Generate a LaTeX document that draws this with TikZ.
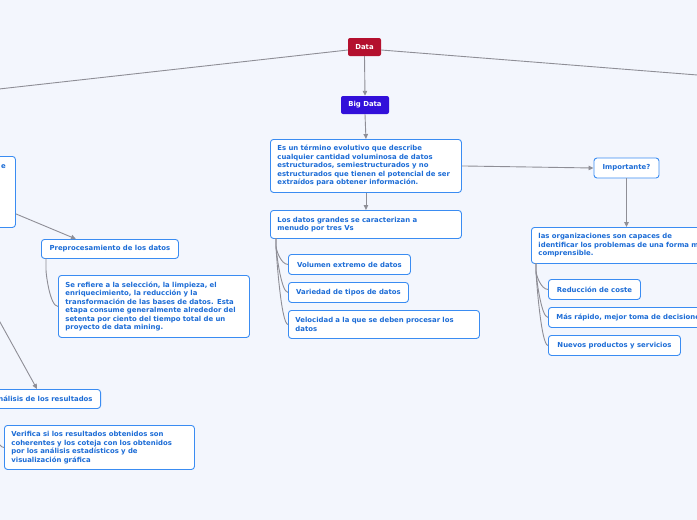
\documentclass[tikz,border=0pt]{standalone}
\usepackage{fontspec}
\setmainfont{DejaVu Sans}
\usetikzlibrary{arrows.meta}
\definecolor{bg}{HTML}{F3F6FD}
\definecolor{bord}{HTML}{3A8CF2}
\definecolor{txt}{HTML}{1C6CD6}
\definecolor{redt}{HTML}{B4102E}
\definecolor{viol}{HTML}{3210DA}
\definecolor{conn}{HTML}{8E8E96}
\tikzset{
  txtfont/.style={font=\bfseries\fontsize{6.9}{8.5}\selectfont},
  topic/.style={txtfont, text=white, rounded corners=2pt, inner sep=0pt, minimum height=18pt},
  box/.style={txtfont, draw=bord, line width=0.9pt, fill=white, text=txt, rounded corners=3pt,
    align=left, inner xsep=8pt, inner ysep=0pt, anchor=north west},
  arr/.style={draw=conn, line width=0.9pt, -{Triangle[length=5pt,width=4.5pt]}},
  ln/.style={draw=conn, line width=0.9pt},
}
\begin{document}
\begin{tikzpicture}[x=1pt,y=-1pt]
\useasboundingbox (0,0) rectangle (697,520);
\fill[bg] (0,0) rectangle (697,520);
\clip (0,0) rectangle (697,520);

% central
\node[topic, fill=redt, minimum width=33pt] (data) at (364.5,47) {Data};
\node[topic, fill=viol, minimum width=48pt] (bigdata) at (365,105) {Big Data};
\coordinate (offL) at (-10,90);
\coordinate (offR) at (710,76);
\draw[ln] ([yshift=-3pt]data.west) -- (offL);
\draw[ln] ([yshift=-3pt]data.east) -- (offR);
\draw[arr] (data.south) -- (bigdata.north);

\node[box, text width=177pt, inner xsep=7pt, minimum height=53pt] (b1) at (270,139)
 {Es un término evolutivo que describe\\cualquier cantidad voluminosa de datos\\estructurados, semiestructurados y no\\estructurados que tienen el potencial de ser\\extraídos para obtener información.};
\draw[arr] (bigdata.south) -- (b1.north);

\node[box, text width=177pt, inner xsep=7pt, minimum height=28pt] (b2) at (270,210)
 {Los datos grandes se caracterizan a\\menudo por tres Vs};
\draw[arr] (b1.south) -- (b2.north);

\node[box, minimum width=122pt, minimum height=20pt, inner xsep=2pt] (v1) at (288,254) {Volumen extremo de datos};
\node[box, minimum width=120pt, minimum height=20pt, inner xsep=2pt] (v2) at (288,282) {Variedad de tipos de datos};
\node[box, text width=177pt, inner xsep=7pt, minimum height=28pt] (v3) at (288,310) {Velocidad a la que se deben procesar los\\datos};
\coordinate (b2s) at (276,238);
\foreach \t in {v1,v2,v3}{
  \draw[ln] (b2s) -- ++(0,8) .. controls +(0,4) and +(-7,0) .. (\t.west);
}

% right branch
\node[box, anchor=center, minimum width=65pt, minimum height=20pt, inner xsep=2pt] (imp) at (626.5,168) {Importante?};
\draw[arr] (b1.east) -- (imp.west);
\node[box, text width=215pt, inner xsep=7pt, minimum height=36pt] (org) at (531,227)
 {las organizaciones son capaces de\\identificar los problemas de una forma más\\comprensible.};
\draw[arr] (imp.south) -- (imp.south |- org.north);
\node[box, minimum width=92pt, minimum height=20pt, inner xsep=2pt] (r1) at (548,279) {Reducción de coste};
\node[box, text width=190pt, minimum height=20pt] (r2) at (548,307) {Más rápido, mejor toma de decisiones};
\node[box, minimum width=132pt, minimum height=20pt, inner xsep=2pt] (r3) at (548,335) {Nuevos productos y servicios};
\coordinate (orgs) at (536,263);
\foreach \t in {r1,r2,r3}{
  \draw[ln] (orgs) -- ++(0,8) .. controls +(0,4) and +(-7,0) .. (\t.west);
}

% left branch
\node[box, text width=99pt, minimum height=71pt] (lb) at (-100,156) {};
\node[txtfont, text=txt, anchor=base east, inner sep=0pt] (lbt) at (6,168) {e};
\node[box, minimum width=137pt, minimum height=19pt, inner xsep=2pt] (pre) at (41,239) {Preprocesamiento de los datos};
\draw[arr] ([yshift=14pt]lb.south east) -- ([xshift=-34pt]pre.north);
\node[box, text width=177pt, inner xsep=7pt, minimum height=62pt] (pred) at (58,275)
 {Se refiere a la selección, la limpieza, el\\enriquecimiento, la reducción y la\\transformación de las bases de datos. Esta\\etapa consume generalmente alrededor del\\setenta por ciento del tiempo total de un\\proyecto de data mining.};
\coordinate (pres) at (46,258);
\draw[ln] (pres) -- ++(0,12) .. controls +(0,4) and +(-8,0) .. (pred.west);

\coordinate (offL2) at (-10,304);
\node[box, anchor=north east, minimum height=19pt] (ana) at (101,389) {Análisis de los resultados};
\coordinate (anaIn) at (37,389);
\draw[arr] (offL2) -- (anaIn);
\node[box, text width=176pt, inner xsep=7pt, minimum height=44pt] (ver) at (4,425)
 {Verifica si los resultados obtenidos son\\coherentes y los coteja con los obtenidos\\por los análisis estadísticos y de\\visualización gráfica};
\coordinate (anas) at (-6,408);
\draw[ln] (anas) -- ++(0,20) .. controls +(0,4) and +(-6,0) .. (ver.west);
\end{tikzpicture}
\end{document}
